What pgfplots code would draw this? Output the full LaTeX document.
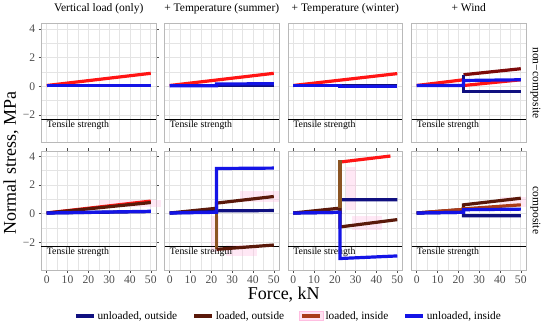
\documentclass[border=0pt]{standalone}
\usepackage{pgfplots}
\pgfplotsset{compat=1.18}
\usepackage{fontspec}
\setmainfont{Liberation Serif}
\definecolor{navyc}{RGB}{16,16,128}
\definecolor{bluec}{RGB}{20,20,230}
\definecolor{redc}{RGB}{255,20,20}
\definecolor{dbrown}{RGB}{90,25,10}
\definecolor{maroonc}{RGB}{125,10,10}
\definecolor{lbrown}{RGB}{140,85,35}
\definecolor{rbrown}{RGB}{170,60,25}
\definecolor{pinkc}{RGB}{255,190,225}
\definecolor{gridc}{RGB}{228,228,228}
\definecolor{borderc}{RGB}{185,185,185}
\definecolor{tickc}{RGB}{77,77,77}
\pgfplotsset{
  panel/.style={
    scale only axis, width=114.5pt, height=119pt, anchor=south west,
    xmin=-2.5, xmax=52.5, ymin=-3.92, ymax=4.37,
    xtick={0,10,...,50}, ytick={-2,0,2,4}, yticklabels={−2,0,2,4},
    minor x tick num=1, minor y tick num=1,
    grid=both, clip mode=individual,
    major grid style={color=gridc, line width=0.6pt},
    minor grid style={color=gridc, line width=0.35pt},
    axis line style={draw=borderc, line width=0.6pt},
    tick align=outside, major tick length=2.75pt, minor tick length=0pt,
    tick style={color=tickc, line width=0.5pt},
    ticklabel style={font=\fontsize{11.6}{13}\selectfont, text=tickc},
    /pgf/number format/assume math mode=true,
    title style={font=\fontsize{11.5}{13}\selectfont, anchor=base, at={(0.5,1)}, yshift=6.5pt, inner sep=0pt},
  },
  noxt/.style={xticklabels={}, xtick style={draw=none}},
  noyt/.style={yticklabels={}, ytick style={draw=none}},
  ser/.style={line width=3.2pt, line cap=butt, line join=miter, forget plot},
  band/.style={fill=pinkc, draw=none, fill opacity=0.35, forget plot},
}
\newcommand{\tensile}{%
  \addplot[black, line width=1pt, forget plot] coordinates {(-2.5,-2.3) (52.5,-2.3)};
  \node[anchor=base west, inner sep=0pt, font=\fontsize{9.8}{11}\selectfont] at (axis cs:0,-2.86) {Tensile strength};
}
\begin{document}
\begin{tikzpicture}[x=1pt,y=1pt]
\useasboundingbox (0,0) rectangle (550,327);

% ---------------- top row: non-composite ----------------
\begin{axis}[panel, noxt, at={(41.5pt,184.5pt)}, title={Vertical load (only)}]
\tensile
\addplot[ser, redc] coordinates {(0,0.05) (50,0.9)};
\addplot[ser, navyc] coordinates {(0,0.03) (50,0.03)};
\addplot[ser, bluec] coordinates {(0,0.03) (50,0.03)};
\end{axis}

\begin{axis}[panel, noxt, noyt, at={(164.5pt,184.5pt)}, title={+ Temperature (summer)}]
\tensile
\addplot[ser, redc] coordinates {(0,0.05) (50,0.9)};
\addplot[ser, navyc] coordinates {(0,0.03) (50,0.03)};
\addplot[ser, bluec] coordinates {(0,0.03) (22.5,0.03) (22.5,0.15) (50,0.18)};
\end{axis}

\begin{axis}[panel, noxt, noyt, at={(288pt,184.5pt)}, title={+ Temperature (winter)}]
\tensile
\addplot[ser, redc] coordinates {(0,0.05) (50,0.88)};
\addplot[ser, navyc] coordinates {(0,0.03) (50,0.03)};
\addplot[ser, bluec] coordinates {(0,0.03) (22.5,0.03) (22.5,-0.04) (50,-0.04)};
\end{axis}

\begin{axis}[panel, noxt, noyt, at={(411.5pt,184.5pt)}, title={+ Wind}]
\tensile
\addplot[ser, redc] coordinates {(0,0.05) (22.5,0.45)};
\addplot[ser, redc] coordinates {(22.5,0.05) (50,0.45)};
\addplot[ser, maroonc] coordinates {(22.5,0.8) (50,1.22)};
\addplot[ser, navyc] coordinates {(22.5,0.8) (22.5,-0.39) (50,-0.39)};
\addplot[ser, bluec] coordinates {(0,0.05) (22.5,0.05) (22.5,0.4) (50,0.45)};
\end{axis}

% ---------------- bottom row: composite ----------------
\begin{axis}[panel, at={(41.5pt,57pt)}, clip=false,
  legend style={at={(2.157,-0.387)}, anchor=center, draw=none, fill=none,
    legend columns=4, font=\fontsize{11.3}{13}\selectfont,
    /tikz/every even column/.append style={column sep=13pt}},
  legend image code/.code={\draw[#1] (0pt,0pt) -- (18pt,0pt);}]
\addplot[band] coordinates {(25,0.5) (55,0.5) (55,0.97) (25,0.97)} -- cycle;
\tensile
\addplot[ser, redc] coordinates {(0,0.05) (50,0.88)};
\addplot[ser, dbrown] coordinates {(0,0.05) (50,0.78)};
\addplot[ser, navyc] coordinates {(0,0.05) (50,0.15)};
\addplot[ser, bluec] coordinates {(0,0.05) (50,0.17)};
\addlegendimage{navyc, line width=3.5pt}
\addlegendentry{unloaded, outside}
\addlegendimage{dbrown, line width=3.5pt}
\addlegendentry{loaded, outside}
\addlegendimage{legend image code/.code={\fill[pinkc, fill opacity=0.45] (-3pt,-4.5pt) rectangle (21pt,4.5pt); \draw[rbrown, line width=3.5pt] (0pt,0pt) -- (18pt,0pt);}}
\addlegendentry{loaded, inside}
\addlegendimage{bluec, line width=3.5pt}
\addlegendentry{unloaded, inside}
\end{axis}

\begin{axis}[panel, noyt, at={(164.5pt,57pt)}]
\addplot[band] coordinates {(19.7,-2.7) (23.7,-2.7) (23.7,-0.19) (19.7,-0.19)} -- cycle;
\addplot[band] coordinates {(34,0.85) (52.5,0.85) (52.5,1.55) (34,1.55)} -- cycle;
\addplot[band] coordinates {(27,-2.95) (42,-2.95) (42,-2.15) (27,-2.15)} -- cycle;
\tensile
\addplot[ser, dbrown] coordinates {(0,0.05) (22.5,0.38) (22.5,0.74) (50,1.2)};
\addplot[ser, lbrown] coordinates {(22.5,0.35) (22.5,-2.48)};
\addplot[ser, dbrown] coordinates {(22.5,-2.48) (50,-2.18)};
\addplot[ser, navyc] coordinates {(0,0.05) (22.5,0.15) (22.5,0.2) (50,0.22)};
\addplot[ser, bluec] coordinates {(0,0.05) (22.5,0.1) (22.5,3.15) (50,3.18)};
\end{axis}

\begin{axis}[panel, noyt, at={(288pt,57pt)}]
\addplot[band] coordinates {(25.2,0.28) (30,0.28) (30,3.28) (25.2,3.28)} -- cycle;
\addplot[band] coordinates {(28.4,-1.1) (42.7,-1.1) (42.7,-0.19) (28.4,-0.19)} -- cycle;
\tensile
\addplot[ser, navyc] coordinates {(0,0.05) (22.5,0.1) (22.5,0.97) (50,0.98)};
\addplot[ser, dbrown] coordinates {(0,0.05) (22.5,0.39) (22.5,-0.92) (50,-0.41)};
\addplot[ser, redc] coordinates {(22.5,3.6) (46.7,4.02)};
\addplot[ser, lbrown] coordinates {(22.5,0.39) (22.5,3.75)};
\addplot[ser, bluec] coordinates {(0,0.05) (22.5,0.1) (22.5,-3.12) (50,-2.94)};
\end{axis}

\begin{axis}[panel, noyt, at={(411.5pt,57pt)}]
\addplot[band] coordinates {(40,0.5) (52.5,0.5) (52.5,1.15) (40,1.15)} -- cycle;
\tensile
\addplot[ser, dbrown] coordinates {(0,0.05) (22.5,0.3) (22.5,0.62) (50,1.08)};
\addplot[ser, rbrown] coordinates {(0,0.05) (22.5,0.3) (22.5,0.34) (50,0.62)};
\addplot[ser, navyc] coordinates {(0,0.05) (22.5,0.1) (22.5,-0.14) (50,-0.14)};
\addplot[ser, bluec] coordinates {(0,0.05) (22.5,0.1) (22.5,0.28) (50,0.32)};
\end{axis}

% strip labels on the right
\node[rotate=-90, anchor=center, inner sep=0pt, font=\fontsize{11.5}{13}\selectfont] at (535.5,244) {non−composite};
\node[rotate=-90, anchor=center, inner sep=0pt, font=\fontsize{11.5}{13}\selectfont] at (535.5,116.5) {composite};

% axis titles
\node[rotate=90, anchor=base, inner sep=0pt, font=\fontsize{18}{20}\selectfont] at (16,164) {Normal stress, MPa};
\node[anchor=base, inner sep=0pt, font=\fontsize{18}{20}\selectfont] at (283.75,27) {Force, kN};
\end{tikzpicture}
\end{document}
